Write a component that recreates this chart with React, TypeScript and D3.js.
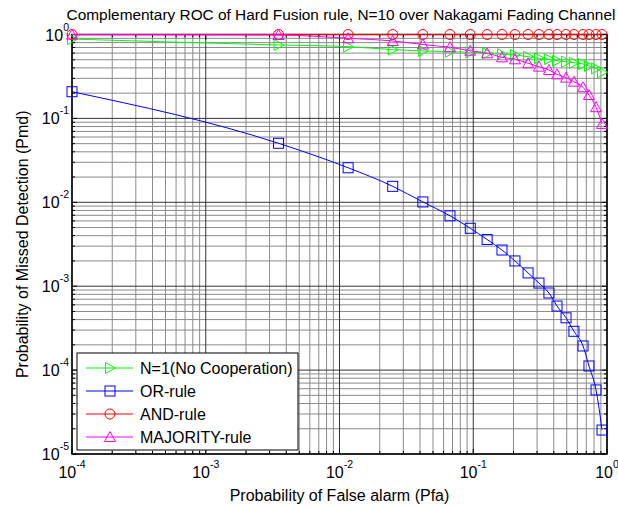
import React from "react";
import * as d3 from "d3";

// Probability of false alarm at each computed operating point
const pfa = [
  0.0001, 0.0035, 0.0116, 0.025, 0.042, 0.067, 0.095, 0.127, 0.164, 0.205,
  0.257, 0.31, 0.368, 0.423, 0.494, 0.566, 0.662, 0.733, 0.828, 0.918,
];

// Probability of missed detection for each fusion rule
const pmdSingle = [
  0.883, 0.75, 0.716, 0.66, 0.636, 0.624, 0.614, 0.597, 0.581, 0.57,
  0.544, 0.521, 0.508, 0.487, 0.474, 0.461, 0.445, 0.421, 0.395, 0.354,
];
const pmdOr = [
  0.208, 0.0505, 0.0258, 0.0155, 0.0101, 0.0069, 0.0049, 0.0036, 0.0027, 0.002,
  0.00144, 0.00109, 0.00083, 0.00058, 0.00042, 0.00029, 0.000194, 0.000112, 0.000058, 0.0000193,
];
const pmdAnd = [
  1, 1, 1, 1, 1, 1, 1, 1, 1, 1, 1, 1, 1, 1, 1, 1, 1, 1, 1, 1,
];
const pmdMajority = [
  0.995, 0.986, 0.9, 0.837, 0.76, 0.704, 0.641, 0.597, 0.535, 0.506,
  0.454, 0.414, 0.377, 0.335, 0.306, 0.274, 0.235, 0.19, 0.136, 0.086,
];

const seriesNames = ["N=1(No Cooperation)", "OR-rule", "AND-rule", "MAJORITY-rule"];
const xTickExps = [-4, -3, -2, -1, 0];
const yTickExps = [0, -1, -2, -3, -4, -5];

const W = 618;
const H = 508;
const L = 72;
const R = 607;
const T = 34.5;
const B = 454;
const FONT = "'Liberation Sans', Arial, sans-serif";

type MarkerKind = "tri-right" | "square" | "circle" | "tri-up";

function Marker({ kind, x, y, color }: { kind: MarkerKind; x: number; y: number; color: string }) {
  const common = { fill: "none", stroke: color, strokeWidth: 1 };
  if (kind === "square") return <rect x={x - 5} y={y - 5} width={10} height={10} {...common} />;
  if (kind === "circle") return <circle cx={x} cy={y} r={5} {...common} />;
  if (kind === "tri-right")
    return <polygon points={`${x - 4.5},${y - 5.5} ${x - 4.5},${y + 5.5} ${x + 5.5},${y}`} {...common} />;
  return <polygon points={`${x},${y - 5.5} ${x - 5.5},${y + 4.5} ${x + 5.5},${y + 4.5}`} {...common} />;
}

export default function App() {
  const x = d3.scaleLog().domain([1e-4, 1]).range([L, R]);
  const y = d3.scaleLog().domain([1e-5, 1]).range([B, T]);

  const series = [
    { name: seriesNames[0], values: pmdSingle, color: "#00ff00", marker: "tri-right" as MarkerKind },
    { name: seriesNames[1], values: pmdOr, color: "#0000ff", marker: "square" as MarkerKind },
    { name: seriesNames[2], values: pmdAnd, color: "#ff0000", marker: "circle" as MarkerKind },
    { name: seriesNames[3], values: pmdMajority, color: "#ff00ff", marker: "tri-up" as MarkerKind },
  ];

  const line = d3
    .line<number>()
    .x((_, i) => x(pfa[i]))
    .y((v) => y(v))
    .curve(d3.curveMonotoneX);

  // minor and major log positions
  const xMinor: number[] = [];
  for (let e = -4; e < 0; e++) for (let m = 2; m <= 9; m++) xMinor.push(m * Math.pow(10, e));
  const yMinor: number[] = [];
  for (let e = -5; e < 0; e++) for (let m = 2; m <= 9; m++) yMinor.push(m * Math.pow(10, e));

  const legX = 77;
  const legY = 353;
  const legW = 221;
  const legH = 97;
  const legStep = 23;

  return (
    <svg
      width={W}
      height={H}
      style={{ position: "absolute", left: 0, top: 0, background: "#fff" }}
      fontFamily={FONT}
    >
      <rect x={0} y={0} width={W} height={H} fill="#fff" />

      {/* grid */}
      <g>
        {xMinor.map((v, i) => (
          <line key={"gx" + i} x1={x(v)} x2={x(v)} y1={T} y2={B} stroke="#8a8a8a" strokeWidth={1} />
        ))}
        {yMinor.map((v, i) => (
          <line key={"gy" + i} x1={L} x2={R} y1={y(v)} y2={y(v)} stroke="#8a8a8a" strokeWidth={1} />
        ))}
        {xTickExps.map((e) => (
          <line key={"Gx" + e} x1={x(Math.pow(10, e))} x2={x(Math.pow(10, e))} y1={T} y2={B} stroke="#333" strokeWidth={1} />
        ))}
        {yTickExps.map((e) => (
          <line key={"Gy" + e} x1={L} x2={R} y1={y(Math.pow(10, e))} y2={y(Math.pow(10, e))} stroke="#333" strokeWidth={1} />
        ))}
      </g>

      {/* ticks on all four sides, pointing inward */}
      <g stroke="#000" strokeWidth={1}>
        {xMinor.map((v, i) => (
          <g key={"tx" + i}>
            <line x1={x(v)} x2={x(v)} y1={B} y2={B - 3} />
            <line x1={x(v)} x2={x(v)} y1={T} y2={T + 3} />
          </g>
        ))}
        {yMinor.map((v, i) => (
          <g key={"ty" + i}>
            <line x1={L} x2={L + 3} y1={y(v)} y2={y(v)} />
            <line x1={R} x2={R - 3} y1={y(v)} y2={y(v)} />
          </g>
        ))}
        {xTickExps.map((e) => (
          <g key={"Tx" + e}>
            <line x1={x(Math.pow(10, e))} x2={x(Math.pow(10, e))} y1={B} y2={B - 5} />
            <line x1={x(Math.pow(10, e))} x2={x(Math.pow(10, e))} y1={T} y2={T + 5} />
          </g>
        ))}
        {yTickExps.map((e) => (
          <g key={"Ty" + e}>
            <line x1={L} x2={L + 5} y1={y(Math.pow(10, e))} y2={y(Math.pow(10, e))} />
            <line x1={R} x2={R - 5} y1={y(Math.pow(10, e))} y2={y(Math.pow(10, e))} />
          </g>
        ))}
      </g>

      {/* axes box */}
      <rect x={L} y={T} width={R - L} height={B - T} fill="none" stroke="#000" strokeWidth={1.5} />

      {/* tick labels */}
      <g fontSize={16} fill="#000">
        {xTickExps.map((e) => (
          <text key={"lx" + e} x={x(Math.pow(10, e))} y={478} textAnchor="middle">
            10
            <tspan fontSize={10.5} dy={-10}>
              {String(e)}
            </tspan>
          </text>
        ))}
        {yTickExps.map((e) => (
          <text key={"ly" + e} x={69} y={y(Math.pow(10, e)) + 6} textAnchor="end">
            10
            <tspan fontSize={10.5} dy={-10}>
              {String(e)}
            </tspan>
          </text>
        ))}
      </g>

      {/* data */}
      {series.map((s) => (
        <g key={s.name}>
          <path d={line(s.values) || ""} fill="none" stroke={s.color} strokeWidth={1} />
          {s.values.map((v, i) => (
            <Marker key={i} kind={s.marker} x={x(pfa[i])} y={y(v)} color={s.color} />
          ))}
        </g>
      ))}

      {/* legend */}
      <g>
        <rect x={legX} y={legY} width={legW} height={legH} fill="#fff" stroke="#000" strokeWidth={1} />
        {series.map((s, i) => {
          const cy = legY + 15 + i * legStep;
          return (
            <g key={"leg" + i}>
              <line x1={legX + 9} x2={legX + 56} y1={cy} y2={cy} stroke={s.color} strokeWidth={1} />
              <Marker kind={s.marker} x={legX + 33} y={cy} color={s.color} />
              <text x={legX + 63} y={cy + 6} fontSize={16} fill="#000">
                {s.name}
              </text>
            </g>
          );
        })}
      </g>

      {/* titles */}
      <text x={341} y={20} textAnchor="middle" fontSize={15.4} fill="#000">
        Complementary ROC of Hard Fusion rule, N=10 over Nakagami Fading Channel
      </text>
      <text x={(L + R) / 2} y={501} textAnchor="middle" fontSize={16} fill="#000">
        Probability of False alarm (Pfa)
      </text>
      <text
        transform={`translate(28, ${(T + B) / 2}) rotate(-90)`}
        textAnchor="middle"
        fontSize={16}
        fill="#000"
      >
        Probability of Missed Detection (Pmd)
      </text>
    </svg>
  );
}
